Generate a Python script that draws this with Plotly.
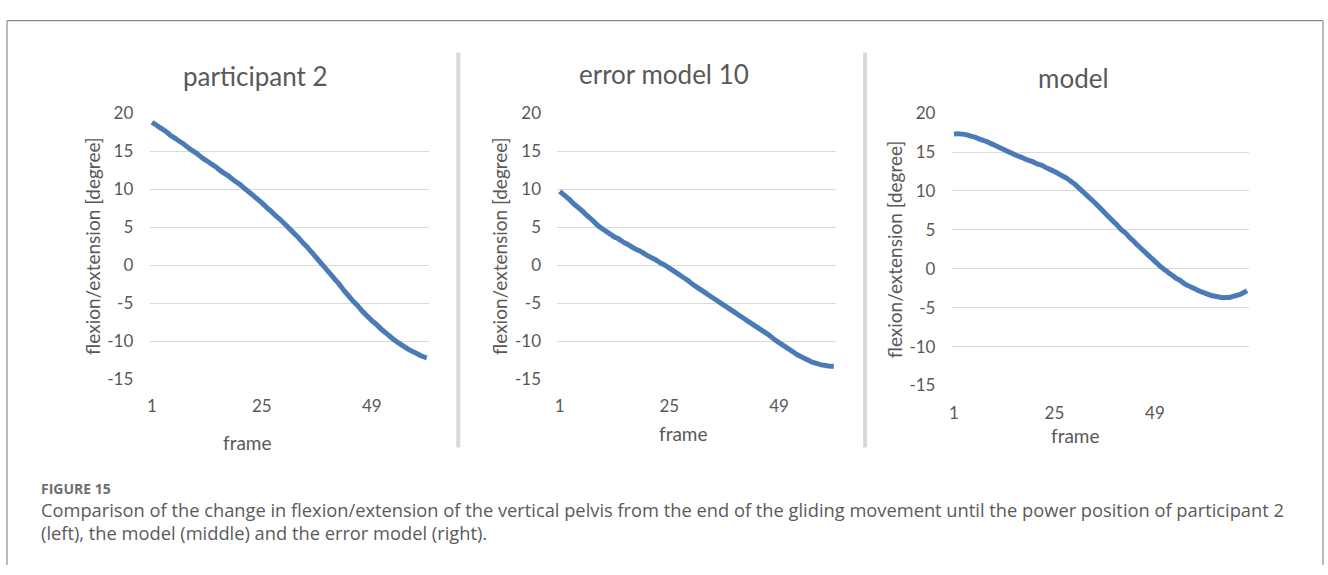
import plotly.graph_objects as go

# Pelvis flexion/extension per frame, three panels
titles = ["participant 2", "error model 10", "model"]

participant_2 = [
    18.8, 18.4, 18.0, 17.6, 17.1, 16.7, 16.3, 15.9, 15.4, 15.0,
    14.6, 14.1, 13.7, 13.3, 12.9, 12.4, 12.0, 11.6, 11.1, 10.7,
    10.2, 9.7, 9.2, 8.7, 8.2, 7.6, 7.1, 6.5, 6.0, 5.4,
    4.8, 4.2, 3.6, 2.9, 2.3, 1.6, 0.9, 0.2, -0.5, -1.2,
    -1.9, -2.6, -3.4, -4.1, -4.8, -5.4, -6.1, -6.7, -7.3, -7.8,
    -8.4, -8.9, -9.4, -9.9, -10.3, -10.7, -11.1, -11.4, -11.7, -12.0,
    -12.2,
]

error_model_10 = [
    9.7, 9.2, 8.7, 8.1, 7.6, 7.1, 6.5, 6.0, 5.4, 4.9,
    4.5, 4.1, 3.7, 3.4, 3.0, 2.7, 2.3, 2.0, 1.7, 1.3,
    1.0, 0.7, 0.3, 0.0, -0.4, -0.8, -1.2, -1.6, -2.0, -2.5,
    -2.9, -3.3, -3.7, -4.1, -4.5, -4.9, -5.3, -5.7, -6.1, -6.5,
    -6.9, -7.3, -7.7, -8.1, -8.5, -8.9, -9.3, -9.8, -10.2, -10.6,
    -11.0, -11.4, -11.8, -12.1, -12.4, -12.7, -12.9, -13.1, -13.2, -13.3,
    -13.3,
]

model = [
    17.3, 17.35, 17.3, 17.2, 17.05, 16.9, 16.7, 16.5, 16.3, 16.05,
    15.8, 15.55, 15.3, 15.05, 14.8, 14.55, 14.35, 14.1, 13.9, 13.7,
    13.45, 13.3, 13.0, 12.75, 12.5, 12.2, 11.9, 11.6, 11.2, 10.8,
    10.3, 9.8, 9.3, 8.8, 8.3, 7.75, 7.2, 6.65, 6.1, 5.6,
    5.0, 4.6, 4.0, 3.5, 2.95, 2.45, 1.95, 1.45, 0.95, 0.45,
    0.0, -0.4, -0.8, -1.2, -1.5, -1.9, -2.2, -2.45, -2.7, -2.95,
    -3.15, -3.35, -3.5, -3.6, -3.7, -3.7, -3.65, -3.5, -3.35, -3.1,
    -2.8,
]

series = [participant_2, error_model_10, model]
frame_ticks = [1, 25, 49]
y_ticks = [-15, -10, -5, 0, 5, 10, 15, 20]
y_tick_text = ["-15", "-10", "-5", "0", "5", "10", "15", "20"]
boundary_ticks = [0.5, 12.5, 24.5, 36.5, 48.5, 60.5]

caption_head = "FIGURE 15"
caption_lines = [
    "Comparison of the change in flexion/extension of the vertical pelvis from the end of the "
    "gliding movement until the power position of participant 2",
    "(left), the model (middle) and the error model (right).",
]

W, H = 1328, 575
FONT = "Lato"
TXT = "#595959"
GRID = "#d9d9d9"
LINE = "#4a7bb7"


def px(x):
    return x / W


def py(y):
    return 1 - y / H


# plot boxes in pixels: (left, right, top, bottom)
boxes = [(147, 427, 106, 382), (555.7, 835, 106, 382), (951, 1249, 106, 388.7)]
title_pos = [(253, 67), (662, 65), (1073, 70)]
ytitle_x = [89, 497, 893]
frame_pos = [(245, 448), (682, 439), (1075, 441)]

fig = go.Figure()
layout = dict(
    width=W, height=H, margin=dict(l=0, r=0, t=0, b=0),
    paper_bgcolor="white", plot_bgcolor="white", showlegend=False,
    font=dict(family=FONT, color=TXT),
)
annotations = []
shapes = []

for i, (vals, (l, r, t, b)) in enumerate(zip(series, boxes)):
    k = i + 1
    xn = f"x{k}" if k > 1 else "x"
    yn = f"y{k}" if k > 1 else "y"
    frames = list(range(1, len(vals) + 1))
    fig.add_trace(go.Scatter(
        x=frames, y=vals, mode="lines", xaxis=xn, yaxis=yn,
        line=dict(color=LINE, width=5, shape="spline", smoothing=0.4),
        hoverinfo="skip",
    ))
    xr = [0.5, len(vals) + 0.5]
    layout[f"xaxis{k if k > 1 else ''}"] = dict(
        domain=[px(l), px(r)], anchor=yn, range=xr,
        tickvals=frame_ticks, ticks="outside", ticklen=12, tickcolor="rgba(0,0,0,0)",
        showgrid=False, showline=False, zeroline=False,
        tickfont=dict(family=FONT, size=17, color=TXT),
    )
    layout[f"yaxis{k if k > 1 else ''}"] = dict(
        domain=[py(b), py(t)], anchor=xn, range=[-15, 20],
        tickvals=y_ticks, ticktext=y_tick_text,
        ticks="outside", ticklen=12, tickcolor="rgba(0,0,0,0)",
        showgrid=True, gridcolor=GRID, gridwidth=1.4, zeroline=False, showline=False,
        tickfont=dict(family=FONT, size=17, color=TXT),
    )
    # category axis drawn along the zero line, with boundary tick marks
    zero_y = b - (b - t) * 15 / 35
    layout[f"xaxis{k + 3}"] = dict(
        domain=[px(l), px(r)], overlaying=xn, anchor="free", position=py(zero_y),
        range=xr, tickvals=boundary_ticks, ticks="outside", ticklen=5,
        tickcolor="#bfbfbf", tickwidth=1.3, showticklabels=False,
        showline=True, linecolor="#bfbfbf", linewidth=1.3, showgrid=False, zeroline=False,
    )
    tx, ty = title_pos[i]
    annotations.append(dict(x=px(tx), y=py(ty), xref="paper", yref="paper", text=titles[i],
                            showarrow=False, xanchor="center", yanchor="middle",
                            font=dict(family=FONT, size=26, color=TXT)))
    annotations.append(dict(x=px(ytitle_x[i]), y=py((t + b) / 2), xref="paper", yref="paper",
                            text="flexion/extension [degree]", textangle=-90, showarrow=False,
                            xanchor="center", yanchor="middle",
                            font=dict(family=FONT, size=19, color=TXT)))
    fx, fy = frame_pos[i]
    annotations.append(dict(x=px(fx), y=py(fy), xref="paper", yref="paper", text="frame",
                            showarrow=False, xanchor="center", yanchor="middle",
                            font=dict(family=FONT, size=19, color=TXT)))

# panel separators
for sx in (456.3, 864):
    shapes.append(dict(type="line", xref="paper", yref="paper",
                       x0=px(sx), x1=px(sx), y0=py(43), y1=py(453),
                       line=dict(color="#d9d9d9", width=4)))

# outer figure frame (open at the bottom)
frame_col = "#8c8c8c"
shapes.append(dict(type="line", xref="paper", yref="paper", x0=px(4), x1=px(4), y0=py(10), y1=0,
                   line=dict(color=frame_col, width=1.2)))
shapes.append(dict(type="line", xref="paper", yref="paper", x0=px(4), x1=px(1323), y0=py(10), y1=py(10),
                   line=dict(color=frame_col, width=1.2)))
shapes.append(dict(type="line", xref="paper", yref="paper", x0=px(1323), x1=px(1323), y0=py(10), y1=0,
                   line=dict(color=frame_col, width=1.2)))

# caption
annotations.append(dict(x=px(37), y=py(496), xref="paper", yref="paper", text=f"<b>{caption_head}</b>",
                        showarrow=False, xanchor="left", yanchor="middle", borderpad=0,
                        font=dict(family="Open Sans", size=14, color="#6e6e6e")))
for j, line_text in enumerate(caption_lines):
    annotations.append(dict(x=px(37), y=py(517 + 24.5 * j), xref="paper", yref="paper", text=line_text,
                            showarrow=False, xanchor="left", yanchor="middle", align="left",
                            borderpad=0,
                            font=dict(family="Open Sans", size=18.3, color="#5a5a5a")))

layout["annotations"] = annotations
layout["shapes"] = shapes
fig.update_layout(**layout)
fig.write_html("out.html")
